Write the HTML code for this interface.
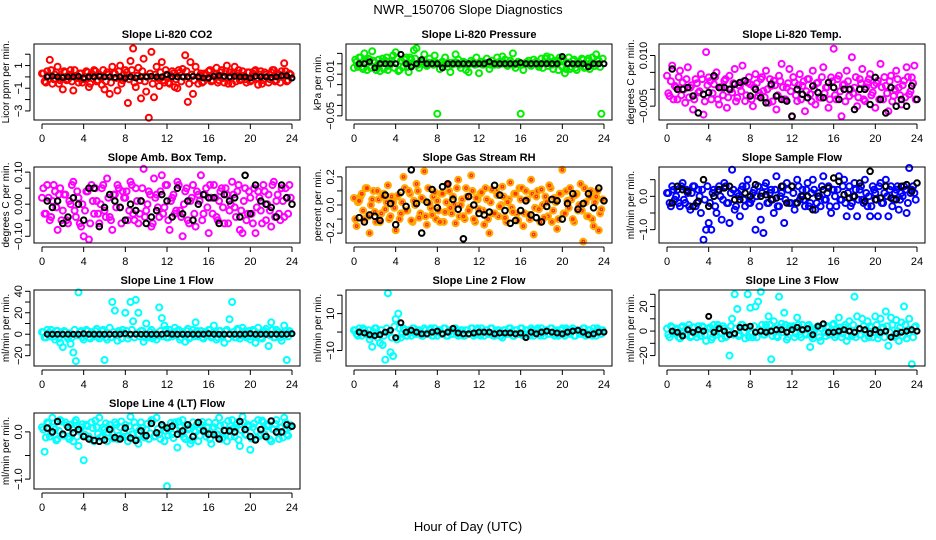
<!DOCTYPE html>
<html><head><meta charset="utf-8">
<style>
html,body{margin:0;padding:0;background:#fff;}
svg{display:block;font-family:"Liberation Sans",Arial,sans-serif;}
</style></head>
<body>
<svg id="chart" width="936" height="540" viewBox="0 0 936 540">
<text x="468" y="14" text-anchor="middle" font-size="13">NWR_150706  Slope Diagnostics</text>
<text x="468" y="531" text-anchor="middle" font-size="13">Hour of Day (UTC)</text>
</svg>
<script>
// ---- data (colored: every 0.25 h from 0; core: every 0.25 h from 0.125; black: every 0.5 h from 0.5) ----
const xTicks = [0,4,8,12,16,20,24];
const co2Vals = [0.3,-0.4,0.5,1.5,-0.6,0.2,0.9,-0.3,-1.1,0.4,-0.2,0.6,-1.2,0.1,-0.5,0.3,
-0.2,0.5,-0.9,0.3,0.6,-0.4,0.2,-0.7,-1.1,0.4,-1.5,0.9,0.3,-1.2,1.0,-0.3,
0.6,-2.3,1.4,2.5,-0.9,0.8,-1.9,1.6,-1.3,-3.6,2.2,-1.8,0.9,-0.8,1.3,-0.5,
0.2,-0.6,0.5,-0.9,-1.0,0.4,0.7,1.9,-2.2,1.3,-1.5,0.9,-0.6,0.3,-0.4,0.2,
0.5,-0.4,0.3,0.8,-0.3,0.6,-0.5,1.0,0.4,-0.6,0.9,0.3,-0.3,0.5,-0.2,0.4,
-0.4,0.3,0.6,-0.7,0.5,-0.3,0.2,-0.5,0.4,0.6,-0.3,0.2,0.5,1.2,-0.4,0.3];
const co2Core = [3,-5,1,6,-2,4,-6,0,5,-3,2,-4,6,-1,3,-5,-2,4,-6,1,5,-3,0,6,-4,2,-5,3,-1,5,-6,2,
4,-2,6,-5,1,-3,5,-4,0,3,-6,2,-1,4,-3,6,-5,1,3,-2,6,-4,0,5,-6,2,-3,4,1,-5,3,-1,
6,-3,2,-5,4,-1,5,-6,0,3,-4,6,-2,1,-5,4,-3,5,-1,2,-6,4,0,-2,6,-4,3,-5,1,5,-3,2];
const co2Black = [0.0,0.05,0.0,-0.05,0.0,0.0,0.05,-0.1,0.0,0.0,0.05,0.0,0.0,-0.05,0.0,-0.1,
0.0,-0.1,0.0,0.0,0.05,0.0,0.0,0.2,0.0,0.0,0.0,0.0,0.05,0.0,-0.1,-0.1,
0.05,0.1,0.05,0.0,0.05,0.0,0.0,-0.1,0.05,0.0,0.0,-0.05,0.0,0.1,0.1,-0.1];
const presVals = [-4,2,6,-3,10,-6,4,12,1,-2,-7,5,3,-6,2,8,
11,-7,3,-3,6,-8,4,13,15,-4,2,9,-2,5,1,8,
-48,-5,2,6,-3,-8,1,9,4,-4,2,-6,-8,3,1,6,
-9,2,1,5,-5,3,-1,6,2,7,4,-2,3,10,-4,2,
-48,-6,1,3,-2,4,2,-3,5,1,7,2,-1,3,2,6,
-3,-9,1,-5,3,-4,2,-1,4,-3,5,1,-2,9,3,-48];
const presCore = [4,-3,6,-5,2,5,-4,3,-6,4,1,-5,6,-2,3,-4,5,-6,2,4,-3,6,-1,5,
-1,1,0,-1,1,0,-1,1,0,1,-1,0,1,-1,0,1,-1,0,1,-1,0,1,-1,0,
1,-1,0,1,-1,0,1,-1,0,1,-1,0,1,-1,0,1,-1,0,1,-1,0,1,-1,0,
-4,5,-2,6,-5,3,-6,4,2,-5,6,-3,4,-6,1,5,-4,3,-5,6,-2,4,-3,5];
const presBlack = [0,0,2,-4,0,0,0,0,9,0,-3,0,4,0,0,0,-4,0,0,0,0,0,0,0,
0,2,0,0,0,0,0,1,0,0,0,0,0,0,0,7,0,0,0,0,-3,0,0,0];
const tempVals = [40,-20,70,10,-30,55,20,-40,65,5,-60,30,-10,45,-75,110,
35,-30,15,50,-45,5,25,-55,40,-10,60,-25,10,70,-35,20,
15,-50,45,-20,30,-5,55,-40,10,25,-60,40,75,-30,5,60,
-80,20,-35,45,10,-65,30,-15,55,-45,20,-25,65,5,-55,35,
120,-30,40,-80,15,55,-20,95,5,-50,30,60,-35,20,45,-10,
-55,25,75,-30,10,-65,40,-20,55,5,-45,25,65,-15,35,70];
const tempCore = [-2,4,-5,1,6,-3,0,5,-4,2,-5,3,-1,5,-6,2,4,-2,6,-5,1,-3,5,-4,
0,3,-6,2,-1,4,-3,6,-5,1,3,-2,6,-4,0,5,-6,2,-3,4,1,-5,3,-1,
6,-3,2,-5,4,-1,5,-6,0,3,-4,6,-2,1,-5,4,-3,5,-1,2,-6,4,0,-2,
6,-4,3,-5,1,5,-3,2,3,-5,1,6,-2,4,-6,0,5,-3,2,-4,6,-1,3,-5];
const tempBlack = [60,0,0,5,-20,-70,-15,-10,40,5,5,0,15,20,25,-20,0,-25,-40,15,-20,-30,-35,-80,
0,-15,-25,10,-10,-25,20,5,-30,0,0,-60,0,0,-45,35,-30,-70,5,-50,-30,-50,10,-30];
const ambVals = [2,-3,6,-5,1,4,-8,5,-2,3,-6,0,7,-4,2,-7,
-10,4,-11,6,-3,1,-6,5,-2,8,-4,-8,3,6,-1,4,
2,-5,7,-3,5,-6,1,11,-2,4,-7,8,3,-4,9,-1,
6,-8,2,-3,7,-2,-10,4,-5,1,6,-7,3,9,-3,5,
-9,2,6,-4,1,5,-6,3,-2,7,-1,4,-8,-9,5,-3,
2,-6,-9,4,-2,6,-5,3,-7,7,1,-3,5,-4,2,6];
const ambCore = [5,-3,2,-4,6,-1,3,-5,3,-5,1,6,-2,4,-6,0,-2,4,-6,1,5,-3,0,6,
-4,2,-5,3,-1,5,-6,2,4,-2,6,-5,1,-3,5,-4,0,3,-6,2,-1,4,-3,6,
-5,1,3,-2,6,-4,0,5,-6,2,-3,4,1,-5,3,-1,6,-3,2,-5,4,-1,5,-6,
0,3,-4,6,-2,1,-5,4,-3,5,-1,2,-6,4,0,-2,6,-4,3,-5,1,5,-3,2];
const ambBlack = [1,-1,1,-6,-4,2,0,-5,5,5,-7,-1,3,1,-1,-5,0,-2,1,-6,-4,-2,3,1,
-4,5,-3,1,-5,0,3,2,2,-6,3,1,2,-4,9,-3,6,1,0,-1,-4,6,2,0];
const rhVals = [5,-15,3,8,-10,12,-20,4,-5,10,-12,6,-3,14,-8,2,
-18,7,-6,20,-4,10,-11,3,15,-9,5,24,-14,1,-7,9,
3,-12,8,-5,15,-2,6,-13,18,0,-8,12,-4,21,-10,5,
-3,9,-14,4,-20,11,-6,7,-1,13,-9,2,16,-5,8,-11,
4,-15,10,-7,18,-21,6,-3,11,-9,2,14,-12,5,-17,8,
25,-6,3,12,-10,7,-4,15,-26,2,-8,10,-15,6,-18,-3];
const rhCore = [-5,1,3,-2,6,-4,0,5,-6,2,-3,4,1,-5,3,-1,3,-5,1,6,-2,4,-6,0,
5,-3,2,-4,6,-1,3,-5,-2,4,-6,1,5,-3,0,6,-4,2,-5,3,-1,5,-6,2,
4,-2,6,-5,1,-3,5,-4,0,3,-6,2,-1,4,-3,6,6,-3,2,-5,4,-1,5,-6,
0,3,-4,6,-2,1,-5,4,-3,5,-1,2,-6,4,0,-2,6,-4,3,-5,1,5,-3,2];
const rhBlack = [-9,-12,-7,-8,-11,7,1,-14,9,-1,25,1,-20,2,11,-2,13,15,4,-3,-24,6,0,-6,
-7,-5,14,7,-4,-13,-11,-4,3,-7,-9,-12,-1,4,3,-10,1,8,-3,1,8,-2,12,3];
const flowVals = [0.1,-0.2,0.3,-0.1,0.2,-0.3,0.4,-0.2,0.1,-0.4,0.3,-0.3,0.2,-0.5,-1.3,-1.0,
-0.8,-1.0,0.2,-0.5,0.3,-0.7,0.4,-0.2,-0.8,0.8,-0.4,0.1,-0.6,0.3,-0.3,0.5,
-0.2,0.1,-1.0,0.3,-0.7,-1.1,0.4,-0.2,0.2,-0.5,0.6,-0.3,0.1,-0.8,0.4,-0.2,
0.3,-0.4,0.5,-0.1,0.2,-0.3,0.4,-0.2,0.5,-0.4,0.1,-0.3,0.6,-0.1,0.3,-0.5,
0.2,-0.3,0.6,-0.1,0.5,-0.6,0.3,-0.2,0.4,-0.6,0.2,-0.1,0.5,-0.3,-0.6,0.3,
0.1,-0.6,0.4,-0.2,0.5,-0.6,0.3,-0.1,0.2,-0.4,0.1,0.3,-0.5,0.85,0.2,0.1];
const flowCore = [1,-3,2,0,-2,3,-1,2,-3,1,3,-2,0,2,-1,3,-2,1,-3,2,0,-1,3,-2,
1,2,-3,0,2,-1,3,-2,-1,2,0,-3,1,3,-2,1,-1,2,-3,0,3,-1,2,-2,
1,-2,3,0,-1,2,-3,1,2,-2,0,3,-1,1,-3,2,0,2,-1,3,-2,1,-3,0,
2,-1,3,-2,1,0,-3,2,-1,3,-2,1,0,2,-3,1,3,-1,0,2,-2,1,3,-1];
const flowBlack = [-0.2,0.3,0.2,0.15,-0.3,-0.15,0.5,-0.3,0.0,0.2,0.25,0.3,-0.1,-0.1,0.1,0.0,
0.35,0.0,0.05,-0.1,-0.05,0.3,-0.2,0.3,-0.2,0.0,0.0,-0.4,0.0,0.2,0.25,0.55,
0.45,0.05,-0.05,0.0,0.4,-0.15,0.75,-0.1,-0.05,0.3,-0.05,-0.1,0.3,0.35,0.15,0.4];
const line1Vals = [2,-3,4,-2,1,-5,3,-8,-12,2,-4,-9,-17,-25,39,3,
-5,4,-3,2,-2,5,-4,3,-24,-5,6,30,22,-6,2,4,
20,-4,30,12,32,20,3,-7,10,-3,4,-2,-5,25,15,8,
-3,4,-2,6,3,-5,2,-7,5,-3,4,11,-2,3,-4,2,
4,-3,8,-5,3,-2,-8,4,14,30,-3,5,-4,6,3,-2,
-5,4,-8,6,-3,2,5,-11,11,-3,4,2,-6,8,-24,3];
const line1Core = [2,-3,1,4,-2,3,-4,0,3,-2,1,-3,4,-1,2,-3,-1,3,-4,1,3,-2,0,4,
-3,1,-3,2,-1,3,-4,1,3,-1,4,-3,1,-2,3,-3,0,2,-4,1,-1,3,-2,4,
-3,1,2,-1,4,-3,0,3,-4,1,-2,3,1,-3,2,-1,4,-2,1,-3,3,-1,3,-4,
0,2,-3,4,-1,1,-3,3,-2,3,-1,1,-4,3,0,-1,4,-3,2,-3,1,3,-2,1];
const line1Black = [0,0,0,0,0,0,0,0.5,0,0,0,0,0,0,0,0.5,0,0,0,0,0,0,0,0.5,
0,0,0,0,0,0,0,0.5,0,0,0,0,0,0,0,0.5,0,0,0,0,0,0,0,0.5];
const line2Vals = [1,-1,2,-2,1,-1,-4,-8,2,-3,-6,-7,-15,21,-11,-13,
7,10,-3,2,-2,1,-2,2,-1,1,-2,2,-1,1,-2,2,
-2,1,-1,2,-2,1,-1,2,-2,1,-2,1,-1,2,-2,1,
-1,2,-2,1,-1,2,-2,1,-2,-3,1,-1,2,-2,1,-1,
2,-2,1,-1,2,-2,1,-1,2,-2,1,-1,2,-2,1,-1,
2,-2,1,-1,2,-2,1,-1,2,-2,1,-1,2,-2,1,-1];
const line2Core = [1,-2,0,2,-1,1,-2,0,2,-1,1,-2,2,0,-3,3,-4,2,-1,1,-2,0,2,-1,
1,0,-2,1,-1,2,-2,0,1,-1,2,-2,0,-1,2,-1,0,1,-2,1,-1,2,-1,2,
-2,0,1,-1,2,-2,0,1,-2,1,-1,2,0,-2,1,-1,2,-1,1,-2,1,0,2,-2,
0,1,-1,2,-1,0,-2,1,-1,2,0,1,-2,1,0,-1,2,-1,1,-2,0,2,-1,1];
const line2Black = [0,-0.5,-1.5,-2,-1.5,0,1,-3,5,0,1,0,-1,-1,0,0.5,-1,0,2,-0.5,-1,-1,-0.5,0,
0,0,-1,-0.5,-0.5,-0.5,-1,-0.5,-3,0,-1,0,0.5,0,-0.5,-1,0,0.5,1,0,-1.5,-1,0,0];
const line3Vals = [2,-5,3,-2,1,-6,4,-3,2,-5,3,-2,4,-4,3,-8,
2,-7,5,-3,3,-6,2,-4,-20,10,30,18,-3,5,-6,30,
19,-5,20,24,32,-3,5,12,-23,8,-4,28,6,15,-7,4,
3,-5,11,-3,5,-2,4,-13,-6,2,4,-8,5,-4,3,-2,
6,-3,11,-5,3,-8,8,-4,28,12,-3,10,-6,8,4,-5,
12,-6,10,3,16,-12,11,-4,9,-8,7,20,-6,10,-27,3];
const line3Core = [-3,4,-1,2,-5,3,0,-2,5,-4,3,-5,1,4,-3,2,3,-5,1,5,-2,4,-5,0,
4,-3,2,-4,5,-1,3,-5,-2,4,-5,1,5,-3,0,5,-4,2,-5,3,-1,5,-5,2,
4,-2,5,-5,1,-3,5,-4,0,3,-5,2,-1,4,-3,5,-5,1,3,-2,5,-4,0,5,
-5,2,-3,4,1,-5,3,-1,5,-3,2,-5,4,-1,5,-5,0,3,-4,5,-2,1,-5,4];
const line3Black = [0,-1,-4,1,-1,1,0,12,-1,2,0,-3,-2,3,3,4,-1,0,-1,0,1,1,-1,1,
3,1,2,-3,4,6,-1,-1,0,1,0,-1,2,1,-2,1,-1,0,-5,-2,-1,0,1,0];
const line4Vals = [0.1,-0.42,0.2,-0.1,0.3,0.05,-0.15,0.25,-0.05,0.2,-0.1,0.15,-0.2,0.25,-0.3,0.1,
-0.6,0.15,-0.1,0.2,-0.2,0.1,0.3,-0.1,0.05,-0.2,0.15,-0.05,0.2,-0.15,0.1,-0.1,
0.15,-0.2,0.32,-0.05,0.1,-0.25,0.2,-0.1,0.05,-0.15,0.25,-0.1,0.3,-0.05,0.15,-0.2,
-1.15,0.1,-0.05,0.2,-0.33,0.1,0.25,-0.15,0.05,-0.25,0.2,0.0,-0.2,0.15,0.05,-0.1,
0.2,-0.25,0.1,-0.05,0.3,-0.15,0.15,-0.2,0.05,0.25,-0.1,0.2,-0.3,0.32,-0.05,0.15,
-0.38,0.1,-0.15,0.25,-0.05,0.2,-0.1,0.15,-0.2,0.05,0.25,-0.15,0.1,0.3,-0.05,0.1];
const line4Core = [5,-12,18,-3,10,-18,2,22,-8,14,-15,6,20,-10,3,16,-6,12,-16,8,24,-4,-12,10,
18,-2,6,-14,15,-8,22,0,-10,12,-5,20,-16,4,9,-12,17,-3,24,-9,6,-15,11,2,
-7,19,-13,5,22,-4,-11,14,8,-18,3,16,-8,21,-2,10,-15,7,19,-6,13,-12,2,23,
-10,8,15,-17,4,20,-7,11,-14,18,1,-9,24,-5,12,-16,6,17,-3,9,-12,20,-8,14];
const line4Black = [0.08,0.0,0.22,-0.05,0.1,-0.02,0.05,-0.1,-0.15,-0.18,-0.2,-0.17,0.05,-0.12,-0.15,0.08,
-0.13,-0.18,0.02,-0.08,0.18,-0.02,0.15,0.08,0.12,-0.05,0.02,0.15,-0.1,0.2,0.02,-0.05,
-0.06,-0.15,0.03,0.02,0.0,0.22,0.05,-0.1,-0.17,0.05,-0.1,0.23,0.0,0.0,0.15,0.12];

const NS = "http://www.w3.org/2000/svg";
const svg = document.getElementById('chart');
function mk(tag, attrs, parent){const e=document.createElementNS(NS,tag);for(const k in attrs)e.setAttribute(k,attrs[k]);(parent||svg).appendChild(e);return e;}

const colLeft=[34,346,659], rowTop=[44,167,290,413], W=266, H=76;
const panels = [
 {name:'co2',title:'Slope Li-820 CO2',ylab:'Licor ppm per min.',r:0,c:0,ymin:-3.8,ymax:2.9,scale:1,coreScale:0.1,col:'#ff0000',vals:co2Vals,core:co2Core,blk:co2Black,br:2.5,ticks:[-3,-2,-1,0,1,2],labels:{'-3':'\u22123','-1':'\u22121','1':'1'}},
 {name:'pressure',title:'Slope Li-820 Pressure',ylab:'kPa per min.',r:0,c:1,ymin:-0.054,ymax:0.019,scale:0.001,coreScale:0.001,col:'#00ee00',vals:presVals,core:presCore,blk:presBlack,br:2.5,ticks:[-0.05,-0.04,-0.03,-0.02,-0.01,0,0.01],labels:{'-0.05':'\u22120.05','-0.01':'\u22120.01'}},
 {name:'li820-temp',title:'Slope Li-820 Temp.',ylab:'degrees C per min.',r:0,c:2,ymin:-0.0091,ymax:0.0134,scale:0.0001,coreScale:0.0006,col:'#ff00ff',vals:tempVals,core:tempCore,blk:tempBlack,br:2.8,ticks:[-0.005,0,0.005,0.01],labels:{'-0.005':'\u22120.005','0.01':'0.010'}},
 {name:'amb-box-temp',title:'Slope Amb. Box Temp.',ylab:'degrees C per min.',r:1,c:0,ymin:-0.121,ymax:0.116,scale:0.01,coreScale:0.01,col:'#ff00ff',vals:ambVals,core:ambCore,blk:ambBlack,br:2.8,ticks:[-0.1,-0.05,0,0.05,0.1],labels:{'-0.1':'\u22120.10','0':'0.00','0.1':'0.10'}},
 {name:'gas-stream-rh',title:'Slope Gas Stream RH',ylab:'percent per min.',r:1,c:1,ymin:-0.27,ymax:0.27,scale:0.01,coreScale:0.02,col:'#ffaa00',vals:rhVals,core:rhCore,blk:rhBlack,br:2.8,ticks:[-0.2,-0.1,0,0.1,0.2],labels:{'-0.2':'\u22120.2','0':'0.0','0.2':'0.2'}},
 {name:'sample-flow',title:'Slope Sample Flow',ylab:'ml/min per min.',r:1,c:2,ymin:-1.4,ymax:0.88,scale:1,coreScale:0.1,col:'#0000ff',vals:flowVals,core:flowCore,blk:flowBlack,br:2.8,ticks:[-1,-0.5,0,0.5],labels:{'-1':'\u22121.0','0':'0.0'}},
 {name:'line1-flow',title:'Slope Line 1 Flow',ylab:'ml/min per min.',r:2,c:0,ymin:-29.6,ymax:41.2,scale:1,coreScale:1,col:'#00ffff',vals:line1Vals,core:line1Core,blk:line1Black,br:2.5,ticks:[-20,-10,0,10,20,30,40],labels:{'-20':'\u221220','0':'0','20':'20','40':'40'}},
 {name:'line2-flow',title:'Slope Line 2 Flow',ylab:'ml/min per min.',r:2,c:1,ymin:-18.4,ymax:22.8,scale:1,coreScale:1,col:'#00ffff',vals:line2Vals,core:line2Core,blk:line2Black,br:2.5,ticks:[-10,0,10,20],labels:{'-10':'\u221210','10':'10'}},
 {name:'line3-flow',title:'Slope Line 3 Flow',ylab:'ml/min per min.',r:2,c:2,ymin:-28.5,ymax:33.5,scale:1,coreScale:1,col:'#00ffff',vals:line3Vals,core:line3Core,blk:line3Black,br:2.5,ticks:[-20,-10,0,10,20,30],labels:{'-20':'\u221220','0':'0','20':'20'}},
 {name:'line4-flow',title:'Slope Line 4 (LT) Flow',ylab:'ml/min per min.',r:3,c:0,ymin:-1.21,ymax:0.4,scale:1,coreScale:0.01,col:'#00ffff',vals:line4Vals,core:line4Core,blk:line4Black,br:2.8,ticks:[-1,-0.5,0],labels:{'-1':'\u22121.0','0':'0.0'}}
];

panels.forEach(p=>{
  const L=colLeft[p.c], T=rowTop[p.r];
  const g=mk('g',{});
  
  
  const xs=h=>L+8+h*(W-16)/24;
  const ys=v=>T+H-(v-p.ymin)/(p.ymax-p.ymin)*H;
  const t=mk('text',{x:L+W/2,y:T-6,'text-anchor':'middle','font-size':'11','font-weight':'bold'},g);
  t.textContent=p.title;
  
  
  const cg=mk('g',{fill:'none',stroke:p.col,'stroke-width':'2'},g);
  
  
  const drawPt=(h,val)=>{
    const x=xs(h).toFixed(1), y=ys(val).toFixed(1);
    const c=mk('circle',{cx:x,cy:y,r:'3'},cg);
    
    
    if(p.name==='gas-stream-rh'){ mk('circle',{cx:x,cy:y,r:'1.2',stroke:'#ff3300','stroke-width':'1.5'},cg); }
  };
  p.core.forEach((v,i)=>drawPt(0.125+i*0.25, v*p.coreScale));
  p.vals.forEach((v,i)=>drawPt(i*0.25, v*p.scale));
  const bg=mk('g',{fill:'none',stroke:'#000','stroke-width':'2'},g);
  
  
  p.blk.forEach((v,i)=>{
    const c=mk('circle',{cx:xs(0.5+i*0.5).toFixed(1),cy:ys(v*p.scale).toFixed(1),r:String(p.br)},bg);
    
    
  });
  const b=mk('rect',{x:L,y:T,width:W,height:H,fill:'none',stroke:'#000','stroke-width':'1'},g);
  
  
  const xa=mk('g',{},g);
  
  
  mk('line',{x1:xs(0),x2:xs(24),y1:T+H+4,y2:T+H+4,stroke:'#000'},xa);
  xTicks.forEach(h=>{
    mk('line',{x1:xs(h),x2:xs(h),y1:T+H+4,y2:T+H+9,stroke:'#000'},xa);
    const tx=mk('text',{x:xs(h),y:T+H+22,'text-anchor':'middle','font-size':'11'},xa);
    tx.textContent=h;
  });
  const ya=mk('g',{},g);
  
  
  const tv=p.ticks;
  mk('line',{x1:L-4,x2:L-4,y1:ys(tv[0]),y2:ys(tv[tv.length-1]),stroke:'#000'},ya);
  tv.forEach(v=>{
    const y=ys(v);
    mk('line',{x1:L-9,x2:L-4,y1:y,y2:y,stroke:'#000'},ya);
    const lab=p.labels[String(v)];
    if(lab){
      const tx=mk('text',{x:L-12,y:y,'text-anchor':'middle','font-size':'11',transform:`rotate(-90 ${L-12} ${y})`},ya);
      tx.textContent=lab;
    }
  });
  const yl=mk('text',{x:L-25,y:T+H/2,'text-anchor':'middle','font-size':'10',transform:`rotate(-90 ${L-25} ${T+H/2})`},g);
  yl.textContent=p.ylab;
  
  
});
</script>
</body></html>
